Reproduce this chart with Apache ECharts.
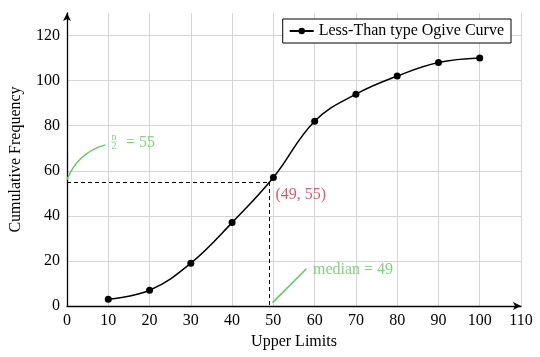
<!DOCTYPE html>
<html><head><meta charset="utf-8">
<script src="https://cdn.jsdelivr.net/npm/echarts@6/dist/echarts.min.js"></script>
<style>html,body{margin:0;padding:0;background:#fff}#c{width:540px;height:357px}</style>
</head><body><div id="c"></div>
<script>
// ---- data ----
const upperLimits = [10, 20, 30, 40, 50, 60, 70, 80, 90, 100];
const cumulativeFrequency = [3, 7, 19, 37, 57, 82, 94, 102, 108, 110];
const medianValue = 49;
const halfN = 55;
const seriesName = 'Less-Than type Ogive Curve';
const xAxisTitle = 'Upper Limits';
const yAxisTitle = 'Cumulative Frequency';
const halfNText = '= 55';
const medianText = 'median = 49';
const pointText = '(49, 55)';
// annotation anchors (data units)
const halfNCurve = [[0, 56], [9.3, 71.5]];
const medianPointer = [[49.8, 1.5], [58, 16.5]];
const fractionAnchor = [11.4, 72.5];
const halfNTextAnchor = [14.3, 72.5];
const medianTextAnchor = [59.6, 16];
const pointTextAnchor = [50.5, 49.3];

const FONT = 'Liberation Serif';
const GREEN = '#5cc95c';
const RED = '#c0394b';
const GRID = '#d4d4d4';

const chart = echarts.init(document.getElementById('c'), null, {renderer: 'canvas'});
const mainData = upperLimits.map((x, i) => [x, cumulativeFrequency[i]]);

function textPoint(anchor, label) {
  return {
    type: 'scatter', data: [anchor], symbolSize: 0, silent: true, z: 5,
    label: Object.assign({show: true, position: 'right', distance: 0, fontFamily: FONT}, label)
  };
}
function greenLine(seg, curveness) {
  return {
    type: 'lines', coordinateSystem: 'cartesian2d', silent: true, z: 3,
    symbol: ['none', 'none'],
    lineStyle: {color: GREEN, width: 1.5, type: 'solid', opacity: 1, curveness: curveness},
    data: [{coords: seg}]
  };
}

chart.setOption({
  animation: false,
  textStyle: {fontFamily: FONT},
  grid: {left: 67, right: 19, top: 13, bottom: 51, containLabel: false},
  legend: {
    data: [seriesName], right: 29, top: 19, padding: [4, 7, 4, 6],
    borderColor: '#000', borderWidth: 1, borderRadius: 0, backgroundColor: '#fff',
    itemWidth: 24, itemHeight: 8, itemGap: 4,
    textStyle: {fontFamily: FONT, fontSize: 16, color: '#000'}
  },
  xAxis: {
    type: 'value', min: 0, max: 110, interval: 10,
    name: xAxisTitle, nameLocation: 'middle', nameGap: 27,
    nameTextStyle: {fontFamily: FONT, fontSize: 16, color: '#000'},
    axisLine: {show: true, onZero: false, lineStyle: {color: '#000', width: 1.3}, symbol: ['none', 'arrow'], symbolSize: [6, 8]},
    axisTick: {show: false},
    axisLabel: {fontFamily: FONT, fontSize: 16, color: '#000', margin: 7},
    splitLine: {show: true, lineStyle: {color: GRID, width: 1}}
  },
  yAxis: {
    type: 'value', min: 0, max: 130, interval: 20,
    name: yAxisTitle, nameLocation: 'middle', nameGap: 43,
    nameTextStyle: {fontFamily: FONT, fontSize: 16, color: '#000'},
    axisLine: {show: true, onZero: false, lineStyle: {color: '#000', width: 1.3}, symbol: ['none', 'arrow'], symbolSize: [6, 8]},
    axisTick: {show: false},
    axisLabel: {fontFamily: FONT, fontSize: 16, color: '#000', margin: 7, showMaxLabel: false},
    splitLine: {show: true, lineStyle: {color: [GRID, GRID, GRID, GRID, GRID, GRID, GRID, 'rgba(0,0,0,0)'], width: 1}}
  },
  series: [
    {
      name: seriesName, type: 'line', data: mainData, smooth: 0.4, z: 4,
      symbol: 'circle', symbolSize: 7,
      itemStyle: {color: '#000'},
      lineStyle: {color: '#000', width: 1.5},
      markLine: {
        silent: true, symbol: ['none', 'none'], animation: false,
        label: {show: false},
        lineStyle: {color: '#000', type: [4, 3], width: 1},
        data: [
          [{coord: [0, halfN]}, {coord: [medianValue, halfN]}],
          [{coord: [medianValue, halfN]}, {coord: [medianValue, 0]}]
        ]
      }
    },
    greenLine(halfNCurve, 0.25),
    greenLine(medianPointer, 0),
    textPoint(fractionAnchor, {
      position: 'inside', align: 'center', verticalAlign: 'middle',
      formatter: '{n|n}\n{b|—}\n{d|2}',
      rich: {
        n: {fontFamily: FONT, fontSize: 10, lineHeight: 6, color: GREEN, align: 'center'},
        b: {fontFamily: FONT, fontSize: 7, lineHeight: 2, color: GREEN, align: 'center'},
        d: {fontFamily: FONT, fontSize: 10, lineHeight: 8, color: GREEN, align: 'center'}
      }
    }),
    textPoint(halfNTextAnchor, {formatter: halfNText, fontSize: 16, color: GREEN}),
    textPoint(medianTextAnchor, {formatter: medianText, fontSize: 16, color: GREEN}),
    textPoint(pointTextAnchor, {formatter: pointText, fontSize: 16, color: RED})
  ]
});
</script>
</body></html>
